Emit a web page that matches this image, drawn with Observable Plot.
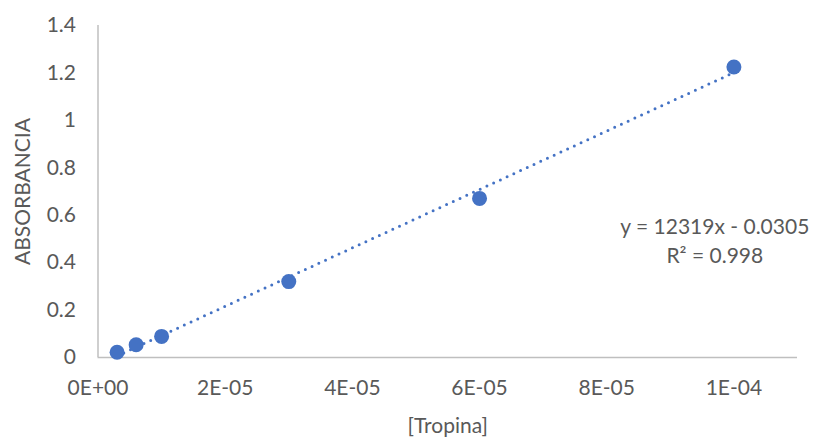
<!DOCTYPE html>
<html>
<head>
<meta charset="utf-8">
<script src="https://cdn.jsdelivr.net/npm/d3@7"></script>
<script src="https://cdn.jsdelivr.net/npm/@observablehq/plot@0.6"></script>
<style>
  html, body { margin: 0; padding: 0; background: #fff; }
  #chart svg { display: block; }
</style>
</head>
<body>
<div id="chart"></div>
<script>
// Calibration: tropine concentration vs. absorbance
const concentration = [3e-6, 6e-6, 1e-5, 3e-5, 6e-5, 1e-4];
const absorbance = [0.022, 0.054, 0.089, 0.32, 0.671, 1.225];

// Linear trendline reported for the series
const slope = 12319;
const intercept = -0.0305;
const rSquared = 0.998;

const xTicks = [0, 2e-5, 4e-5, 6e-5, 8e-5, 1e-4];
const xTickLabels = ["0E+00", "2E-05", "4E-05", "6E-05", "8E-05", "1E-04"];
const yTicks = [0, 0.2, 0.4, 0.6, 0.8, 1, 1.2, 1.4];
const yTickLabels = ["0", "0.2", "0.4", "0.6", "0.8", "1", "1.2", "1.4"];

const points = concentration.map((c, i) => ({c, a: absorbance[i]}));
const xMin = d3.min(concentration), xMax = d3.max(concentration);
const trend = [xMin, xMax].map(c => ({c, a: slope * c + intercept}));

const blue = "#4472C4";
const grey = "#595959";
const axisGrey = "#BFBFBF";
const fs = 21;

const chart = Plot.plot({
  width: 815,
  height: 439,
  marginLeft: 97.5,
  marginRight: 18,
  marginTop: 25,
  marginBottom: 82,
  style: {fontFamily: "Lato, 'Open Sans', sans-serif", fontSize: `${fs}px`, color: grey, background: "#fff"},
  x: {domain: [0, 1.1e-4], label: null},
  y: {domain: [0, 1.4], label: null},
  marks: [
    Plot.axisX({ticks: xTicks, tickFormat: (d, i) => xTickLabels[i], tickSize: 0, tickPadding: 23, label: null, fill: grey, fontSize: fs}),
    Plot.axisY({ticks: yTicks, tickFormat: (d, i) => yTickLabels[i], tickSize: 0, tickPadding: 22, label: null, fill: grey, fontSize: fs}),
    Plot.ruleY([0], {stroke: axisGrey, strokeWidth: 1.5}),
    Plot.ruleX([0], {stroke: axisGrey, strokeWidth: 1.5}),
    Plot.line(trend, {x: "c", y: "a", stroke: blue, strokeWidth: 3, strokeDasharray: "0,7.4", strokeLinecap: "round"}),
    Plot.dot(points, {x: "c", y: "a", r: 7.5, fill: blue, stroke: null}),
    Plot.text([`y = ${slope}x - ${Math.abs(intercept)}\nR² = ${rSquared}`], {
      x: 9.7e-5, y: 0.498, text: d => d, textAnchor: "middle", lineHeight: 1.35,
      fill: grey, fontSize: fs
    }),
    Plot.text(["[Tropina]"], {frameAnchor: "bottom", dy: 75, text: d => d, fill: grey, fontSize: fs}),
    Plot.text(["ABSORBANCIA"], {frameAnchor: "left", textAnchor: "middle", dx: -75, rotate: -90, text: d => d, fill: grey, fontSize: fs})
  ]
});

document.getElementById("chart").appendChild(chart);
</script>
</body>
</html>
